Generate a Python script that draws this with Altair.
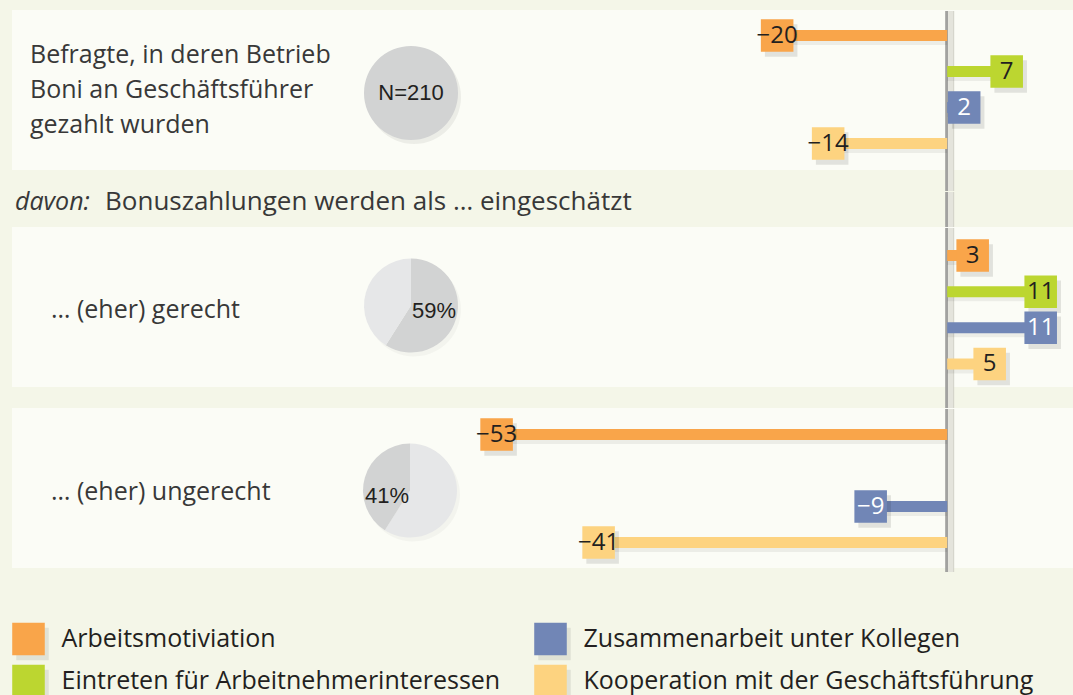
import altair as alt
import pandas as pd

# ---------------- data ----------------
series = ["Arbeitsmotiviation", "Eintreten für Arbeitnehmerinteressen",
          "Zusammenarbeit unter Kollegen", "Kooperation mit der Geschäftsführung"]
series_colors = ["#f9a54a", "#bcd630", "#7186b6", "#fdd380"]

group_labels = ["Befragte, in deren Betrieb\nBoni an Geschäftsführer\ngezahlt wurden",
                "… (eher) gerecht", "… (eher) ungerecht"]
values_alle = [-20, 7, 2, -14]
values_gerecht = [3, 11, 11, 5]
values_ungerecht = [-53, None, -9, -41]

n_total = 210
share_cats = ["gerecht", "ungerecht"]
shares = [59, 41]

header_text = ["davon:", "Bonuszahlungen werden als … eingeschätzt"]

# ---------------- styling ----------------
BG = "#f4f6e8"
PANEL = "#fbfcf6"
TXT = "#383838"
W, H = 1061, 160
FONT = "Open Sans"
FS = 25
xs = alt.Scale(domain=[-110, 14.8], nice=False, zero=False)
cs = alt.Scale(domain=series, range=series_colors)
PIE_DARK = "#d2d3d3"
PIE_LIGHT = "#e6e7e8"


def zero_line(y2):
    d = pd.DataFrame({"zero": [0]})
    x = alt.X("zero:Q", scale=xs, axis=None)
    a = alt.Chart(d).mark_rule(color="#a2a2a0", strokeWidth=3, xOffset=-0.5).encode(
        x=x, y=alt.value(1), y2=alt.value(y2))
    b = alt.Chart(d).mark_rule(color="#e4e4dc", strokeWidth=5, xOffset=3.5).encode(
        x=x, y=alt.value(1), y2=alt.value(y2))
    c = alt.Chart(d).mark_rule(color="#cfcfc6", strokeWidth=1, xOffset=6.5).encode(
        x=x, y=alt.value(1), y2=alt.value(y2))
    return [a, b, c]


def bars(values, yrange):
    df = pd.DataFrame({"series": series, "value": values}).dropna()
    base = alt.Chart(df).transform_calculate(
        label="replace(format(datum.value, 'd'), '-', '–')")
    x = alt.X("value:Q", scale=xs, axis=None)
    y = alt.Y("series:N", sort=series,
              scale=alt.Scale(type="point", domain=series, range=yrange, padding=0), axis=None)
    color = alt.Color("series:N", scale=cs, legend=None)
    shadow_bar = base.mark_bar(size=11, yOffset=4, color="#000000", opacity=0.06).encode(
        x=x, x2=alt.datum(0), y=y)
    bar = base.mark_bar(size=11).encode(x=x, x2=alt.datum(0), y=y, color=color)
    shadow_box = base.mark_square(size=1060, xOffset=4, yOffset=5, color="#000000",
                                  opacity=0.10).encode(x=x, y=y)
    box = base.mark_square(size=1060, opacity=1).encode(x=x, y=y, color=color)
    txt = base.mark_text(font=FONT, fontSize=24, baseline="middle", align="center").encode(
        x=x, y=y, text="label:N",
        color=alt.condition(f"datum.series == '{series[2]}'",
                            alt.value("#ffffff"), alt.value("#231f20")))
    return [shadow_bar, bar, shadow_box, box, txt]


def group_text(label, xpos, ypos):
    d = pd.DataFrame({"g": [label]})
    return alt.Chart(d).mark_text(font=FONT, fontSize=FS, align="left", baseline="middle",
                                  lineBreak="\n", lineHeight=35, color=TXT).encode(
        text="g:N", x=alt.value(xpos), y=alt.value(ypos))


def pie(kind, cx, cy):
    if kind == 0:
        d = pd.DataFrame({"cat": ["alle"], "n": [n_total]})
        sh = alt.Chart(d).mark_arc(radius=47, color="#000000", opacity=0.06,
                                   xOffset=3, yOffset=4).encode(
            theta=alt.Theta("n:Q"), x=alt.value(cx), y=alt.value(cy))
        p = alt.Chart(d).mark_arc(radius=47, color=PIE_DARK).encode(
            theta=alt.Theta("n:Q"), x=alt.value(cx), y=alt.value(cy))
        t = alt.Chart(d).transform_calculate(lab="'N=' + datum.n").mark_text(
            font="Liberation Sans", fontSize=22, color="#231f20", baseline="middle").encode(
            text="lab:N", x=alt.value(cx), y=alt.value(cy))
        return [sh, p, t]
    d = pd.DataFrame({"cat": share_cats, "share": shares})
    own = share_cats[kind - 1]
    sh = alt.Chart(d).mark_arc(radius=47, color="#000000", opacity=0.03,
                               xOffset=3, yOffset=4).encode(
        theta=alt.Theta("share:Q", stack=True), detail="cat:N",
        x=alt.value(cx), y=alt.value(cy))
    p = alt.Chart(d).mark_arc(radius=47).encode(
        theta=alt.Theta("share:Q", stack=True), detail="cat:N",
        color=alt.condition(f"datum.cat == '{own}'", alt.value(PIE_DARK), alt.value(PIE_LIGHT)),
        x=alt.value(cx), y=alt.value(cy))
    t = alt.Chart(d).transform_filter(f"datum.cat == '{own}'").transform_calculate(
        lab="datum.share + '%'").mark_text(
        font="Liberation Sans", fontSize=22, color="#231f20", baseline="middle",
        align="left" if kind == 1 else "right").encode(
        text="lab:N", x=alt.value(cx + 1 if kind == 1 else cx - 1), y=alt.value(cy + 5))
    return [sh, p, t]


def panel(values, yrange, label, lx, ly, kind, pcx, pcy, line_end):
    layers = zero_line(line_end) + pie(kind, pcx, pcy) + [group_text(label, lx, ly)] + bars(values, yrange)
    return alt.layer(*layers).properties(
        width=W, height=H, view=alt.ViewBackground(fill=PANEL, stroke=None))


p1 = panel(values_alle, [25.5, 133.5], group_labels[0], 18, 45, 0, 399, 83, 181)
p2 = panel(values_gerecht, [28.5, 137], group_labels[1], 39, 83, 1, 399, 78.5, 181)
p3 = panel(values_ungerecht, [26.5, 134.5], group_labels[2], 39, 84, 2, 398, 82.5, 164)

hd = pd.DataFrame({"t": header_text})
header = alt.layer(
    *zero_line(36),
    alt.Chart(hd).transform_filter(f"datum.t == '{header_text[0]}'").mark_text(
        font=FONT, fontSize=FS, fontStyle="italic", align="left", baseline="middle",
        color=TXT).encode(text="t:N", x=alt.value(3), y=alt.value(11)),
    alt.Chart(hd).transform_filter(f"datum.t == '{header_text[1]}'").mark_text(
        font=FONT, fontSize=26, align="left", baseline="middle",
        color=TXT).encode(text="t:N", x=alt.value(93), y=alt.value(11)),
).properties(width=W, height=15)

lg = alt.Chart(pd.DataFrame({"series": series})).transform_window(
    i="row_number()").transform_calculate(
    col="floor((datum.i - 1) / 2)", row="(datum.i - 1) % 2")
lx = alt.X("col:Q", scale=alt.Scale(domain=[0, 1], range=[16.5, 538.5]), axis=None)
ly = alt.Y("row:Q", scale=alt.Scale(domain=[0, 1], range=[50, 92]), axis=None)
legend = alt.layer(
    lg.mark_square(size=1060, xOffset=4, yOffset=5, color="#000000", opacity=0.08).encode(x=lx, y=ly),
    lg.mark_square(size=1060, opacity=1).encode(x=lx, y=ly, color=alt.Color("series:N", scale=cs, legend=None)),
    lg.mark_text(font=FONT, fontSize=FS, align="left", baseline="middle", dx=33, color="#231f20").encode(
        x=lx, y=ly, text="series:N"),
).properties(width=W, height=108)

chart = alt.vconcat(p1, header, p2, p3, legend, spacing=21, bounds="flush").properties(
    background=BG, padding={"left": 12, "top": 8, "right": 0, "bottom": 0}
).configure_view(stroke=None)

chart.save("out.html", embed_options={"renderer": "svg", "actions": False})
